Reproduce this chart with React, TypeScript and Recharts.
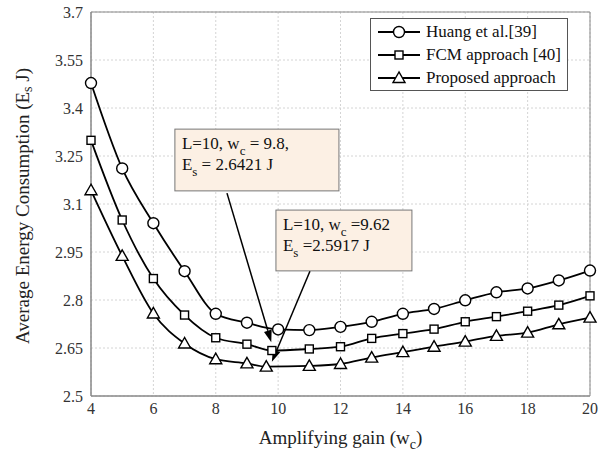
import React from 'react';
import { LineChart, Line, XAxis, YAxis, CartesianGrid, Legend, ReferenceArea, ReferenceLine } from 'recharts';

const huangX = [4, 5, 6, 7, 8, 9, 10, 11, 12, 13, 14, 15, 16, 17, 18, 19, 20];
const huangY = [3.478, 3.211, 3.04, 2.89, 2.757, 2.729, 2.708, 2.706, 2.716, 2.732, 2.757, 2.772, 2.799, 2.824, 2.836, 2.861, 2.892];

const fcmX = [4, 5, 6, 7, 8, 9, 9.8, 11, 12, 13, 14, 15, 16, 17, 18, 19, 20];
const fcmY = [3.299, 3.05, 2.867, 2.753, 2.682, 2.662, 2.6421, 2.647, 2.654, 2.68, 2.695, 2.709, 2.732, 2.748, 2.765, 2.784, 2.813];

const propX = [4, 5, 6, 7, 8, 9, 9.62, 11, 12, 13, 14, 15, 16, 17, 18, 19, 20];
const propY = [3.143, 2.938, 2.758, 2.664, 2.615, 2.602, 2.5917, 2.594, 2.6, 2.62, 2.637, 2.654, 2.67, 2.688, 2.698, 2.724, 2.745];

const xTicks = [4, 6, 8, 10, 12, 14, 16, 18, 20];
const yTicks = [2.5, 2.65, 2.8, 2.95, 3.1, 3.25, 3.4, 3.55, 3.7];

const seriesNames = ['Huang et al.[39]', 'FCM approach [40]', 'Proposed approach'];

const toRows = (xs: number[], ys: number[]) => xs.map((x, i) => ({ x, y: ys[i] }));

const FONT = '"Liberation Serif", "Times New Roman", serif';

const Circle = (props: any) => {
  const { cx, cy } = props;
  if (cx == null || cy == null) return null;
  return <circle cx={cx} cy={cy} r={5.5} fill="#fff" stroke="#000" strokeWidth={1.4} />;
};
const Square = (props: any) => {
  const { cx, cy } = props;
  if (cx == null || cy == null) return null;
  return <rect x={cx - 4} y={cy - 4} width={8} height={8} fill="#fff" stroke="#000" strokeWidth={1.4} />;
};
const Triangle = (props: any) => {
  const { cx, cy } = props;
  if (cx == null || cy == null) return null;
  return (
    <polygon
      points={`${cx},${cy - 6} ${cx - 6},${cy + 4.5} ${cx + 6},${cy + 4.5}`}
      fill="#fff"
      stroke="#000"
      strokeWidth={1.4}
    />
  );
};

const markers = [Circle, Square, Triangle];

const LegendBox = () => (
  <div style={{ border: '1px solid #555', background: '#fff', width: 198, height: 73, boxSizing: 'border-box' }}>
    <svg width={196} height={71} style={{ display: 'block' }}>
      {seriesNames.map((name, i) => {
        const y = 13 + i * 23;
        const M = markers[i];
        return (
          <g key={name}>
            <line x1={7} x2={49} y1={y} y2={y} stroke="#000" strokeWidth={1.8} />
            <M cx={28} cy={y} />
            <text x={55} y={y + 5} fontFamily={FONT} fontSize={17} fill="#111">{name}</text>
          </g>
        );
      })}
    </svg>
  </div>
);

const Arrow = (props: any) => {
  const { x1, y1, x2, y2 } = props;
  const ang = Math.atan2(y2 - y1, x2 - x1);
  const len = 12;
  const w = 4;
  const bx = x2 - len * Math.cos(ang);
  const by = y2 - len * Math.sin(ang);
  const px = -Math.sin(ang) * w;
  const py = Math.cos(ang) * w;
  return (
    <g>
      <line x1={x1} y1={y1} x2={bx} y2={by} stroke="#000" strokeWidth={1.5} />
      <polygon points={`${x2},${y2} ${bx + px},${by + py} ${bx - px},${by - py}`} fill="#000" />
    </g>
  );
};

const makeNote = (l1: [string, string], l2: [string, string]) => (props: any) => {
  const { x, y, width, height } = props;
  return (
    <g>
      <rect x={x} y={y} width={width} height={height} fill="#fcf0e4" stroke="#777" strokeWidth={1} />
      <text x={x + 7} y={y + 20} fontFamily={FONT} fontSize={17} fill="#111">
        {l1[0]}
        <tspan fontSize={13} dy={6}>c</tspan>
        <tspan dy={-6}>{l1[1]}</tspan>
      </text>
      <text x={x + 7} y={y + 41} fontFamily={FONT} fontSize={17} fill="#111">
        E
        <tspan fontSize={13} dy={6}>s</tspan>
        <tspan dy={-6}>{l2[1]}</tspan>
      </text>
    </g>
  );
};

const Note1 = makeNote(['L=10, w', ' = 9.8,'], ['E', ' = 2.6421 J']);
const Note2 = makeNote(['L=10, w', ' =9.62'], ['E', ' =2.5917 J']);

const YLabel = (props: any) => {
  const { viewBox } = props;
  const cx = 22;
  const cy = viewBox.y + viewBox.height / 2 + 2;
  return (
    <text x={cx} y={cy} transform={`rotate(-90 ${cx} ${cy})`} textAnchor="middle" dominantBaseline="central" fontFamily={FONT} fontSize={19} fill="#222">
      Average Energy Consumption (E<tspan fontSize={14} dy={5}>s</tspan><tspan dy={-5}> J)</tspan>
    </text>
  );
};

const XLabel = (props: any) => {
  const { viewBox } = props;
  const cx = viewBox.x + viewBox.width / 2;
  return (
    <text x={cx} y={444} textAnchor="middle" fontFamily={FONT} fontSize={19} fill="#222">
      Amplifying gain (w<tspan fontSize={14} dy={5}>c</tspan><tspan dy={-5}>)</tspan>
    </text>
  );
};

const tickStyle = { fontFamily: FONT, fontSize: 16, fill: '#333' };

export default function App() {
  const datasets = [toRows(huangX, huangY), toRows(fcmX, fcmY), toRows(propX, propY)];
  return (
    <div style={{ width: 611, height: 456, background: '#fff' }}>
      <style>{'body{margin:0}'}</style>
      <LineChart width={611} height={456} margin={{ top: 12, right: 21, left: 0, bottom: 0 }}>
        <CartesianGrid stroke="#d4d4d4" strokeDasharray="2 2" />
        <XAxis
          type="number"
          dataKey="x"
          domain={[4, 20]}
          ticks={xTicks}
          height={60}
          tick={tickStyle}
          tickLine={false}
          tickSize={0}
          tickMargin={7}
          stroke="#888"
          allowDuplicatedCategory={false}
          label={<XLabel />}
        />
        <YAxis
          type="number"
          dataKey="y"
          domain={[2.5, 3.7]}
          ticks={yTicks}
          width={91}
          tick={tickStyle}
          tickLine={false}
          tickSize={0}
          tickMargin={8}
          stroke="#888"
          label={<YLabel />}
        />
        <ReferenceArea x1={4} x2={20} y1={2.5} y2={3.7} fill="none" stroke="#888" strokeWidth={1} />
        {datasets.map((d, i) => {
          const M = markers[i];
          return (
            <Line
              key={seriesNames[i]}
              data={d}
              dataKey="y"
              name={seriesNames[i]}
              type="monotone"
              stroke="#000"
              strokeWidth={1.8}
              dot={<M />}
              activeDot={false}
              isAnimationActive={false}
            />
          );
        })}
        <ReferenceArea x1={6.69} x2={11.95} y1={3.141} y2={3.334} shape={Note1} ifOverflow="visible" />
        <ReferenceArea x1={9.93} x2={14.29} y1={2.891} y2={3.081} shape={Note2} ifOverflow="visible" />
        <ReferenceLine segment={[{ x: 8.36, y: 3.134 }, { x: 9.78, y: 2.668 }]} shape={Arrow} ifOverflow="visible" />
        <ReferenceLine segment={[{ x: 11.02, y: 2.89 }, { x: 9.8, y: 2.607 }]} shape={Arrow} ifOverflow="visible" />
        <Legend
          layout="vertical"
          align="center"
          verticalAlign="middle"
          content={<LegendBox />}
          wrapperStyle={{ position: 'absolute', top: 18, left: 370, width: 198, height: 73 }}
        />
      </LineChart>
    </div>
  );
}
